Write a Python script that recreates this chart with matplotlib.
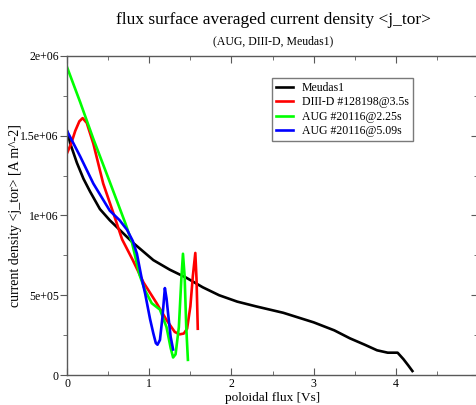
import numpy as np
import matplotlib
matplotlib.use("Agg")
import matplotlib.pyplot as plt
from matplotlib.ticker import MultipleLocator

plt.rcParams['font.family'] = ['Liberation Serif', 'DejaVu Serif']

# data: poloidal flux [Vs] vs current density [A m^-2]
meudas_x = [0.0, 0.04, 0.12, 0.20, 0.28, 0.40, 0.52, 0.64, 0.80, 1.05, 1.25, 1.45,
            1.65, 1.85, 2.07, 2.30, 2.63, 3.00, 3.25, 3.44, 3.62, 3.77, 3.90, 4.02,
            4.09, 4.15, 4.20]
meudas_y = [1.53e6, 1.45e6, 1.33e6, 1.23e6, 1.15e6, 1.04e6, 0.97e6, 0.91e6, 0.83e6,
            0.72e6, 0.66e6, 0.61e6, 0.55e6, 0.50e6, 0.46e6, 0.43e6, 0.39e6, 0.33e6,
            0.28e6, 0.23e6, 0.19e6, 0.155e6, 0.14e6, 0.14e6, 0.10e6, 0.06e6, 0.025e6]

diiid_x = [0.0, 0.05, 0.10, 0.15, 0.19, 0.24, 0.32, 0.44, 0.56, 0.67, 0.80, 0.93,
           1.09, 1.21, 1.31, 1.37, 1.42, 1.46, 1.50, 1.53, 1.56, 1.575, 1.59]
diiid_y = [1.39e6, 1.45e6, 1.53e6, 1.59e6, 1.61e6, 1.58e6, 1.45e6, 1.20e6, 1.02e6,
           0.85e6, 0.72e6, 0.58e6, 0.45e6, 0.345e6, 0.27e6, 0.255e6, 0.26e6, 0.29e6,
           0.43e6, 0.62e6, 0.765e6, 0.60e6, 0.29e6]

aug225_x = [0.0, 0.16, 0.32, 0.52, 0.71, 0.79, 0.88, 0.95, 1.03, 1.13, 1.21, 1.26,
            1.29, 1.32, 1.36, 1.39, 1.41, 1.43, 1.45, 1.47]
aug225_y = [1.93e6, 1.71e6, 1.48e6, 1.21e6, 0.95e6, 0.83e6, 0.63e6, 0.53e6, 0.45e6,
            0.41e6, 0.30e6, 0.17e6, 0.11e6, 0.13e6, 0.30e6, 0.60e6, 0.76e6, 0.62e6,
            0.30e6, 0.095e6]

aug509_x = [0.0, 0.08, 0.16, 0.32, 0.52, 0.64, 0.73, 0.80, 0.85, 0.91, 0.95, 1.01,
            1.05, 1.08, 1.10, 1.13, 1.16, 1.19, 1.21, 1.23, 1.26, 1.29]
aug509_y = [1.53e6, 1.45e6, 1.37e6, 1.20e6, 1.03e6, 0.97e6, 0.91e6, 0.84e6, 0.76e6,
            0.60e6, 0.51e6, 0.35e6, 0.26e6, 0.20e6, 0.19e6, 0.22e6, 0.36e6, 0.545e6,
            0.48e6, 0.38e6, 0.24e6, 0.16e6]

series = [
    ("Meudas1", meudas_x, meudas_y, "black"),
    ("DIII-D #128198@3.5s", diiid_x, diiid_y, "#ff0000"),
    ("AUG #20116@2.25s", aug225_x, aug225_y, "#00ff00"),
    ("AUG #20116@5.09s", aug509_x, aug509_y, "#0000ff"),
]

x_ticks = [0, 1, 2, 3, 4, 5]
y_ticks = [0, 5e5, 1e6, 1.5e6, 2e6]
y_tick_labels = ["0", "5e+05", "1e+06", "1.5e+06", "2e+06"]

fig = plt.figure(figsize=(4.77, 4.05), dpi=100)
ax = fig.add_axes([0.1405, 0.074, 0.862, 0.788])

for label, xs, ys, col in series:
    ax.plot(xs, ys, color=col, lw=1.9, label=label)

ax.set_xlim(0, 5)
ax.set_ylim(0, 2e6)
ax.set_xticks(x_ticks)
ax.set_xticklabels([str(t) for t in x_ticks])
ax.xaxis.set_minor_locator(MultipleLocator(0.5))
ax.set_yticks(y_ticks)
ax.set_yticklabels(y_tick_labels)
ax.yaxis.set_minor_locator(MultipleLocator(2.5e5))

spine_col = "0.35"
for s in ax.spines.values():
    s.set_color(spine_col)
    s.set_linewidth(1.0)

ax.tick_params(axis='x', which='both', direction='in', top=True, bottom=True,
               color=spine_col, labelsize=8.5, pad=2)
ax.tick_params(axis='x', which='major', length=5)
ax.tick_params(axis='x', which='minor', length=3)
ax.tick_params(axis='y', which='both', direction='out', left=True, right=False,
               color=spine_col, labelsize=8.5, pad=1)
ax.tick_params(axis='y', which='major', length=5)
ax.tick_params(axis='y', which='minor', length=3)

# right side ticks point inward
ax_r = ax.secondary_yaxis('right')
ax_r.set_yticks(y_ticks)
ax_r.yaxis.set_minor_locator(MultipleLocator(2.5e5))
ax_r.tick_params(axis='y', which='both', direction='in', labelright=False,
                 color=spine_col)
ax_r.tick_params(axis='y', which='major', length=5)
ax_r.tick_params(axis='y', which='minor', length=3)
ax_r.spines['right'].set_color(spine_col)

ax.set_xlabel("poloidal flux [Vs]", fontsize=9.5)
ax.xaxis.set_label_coords(0.5, -0.053)
ax.set_ylabel("current density <j_tor> [A m^-2]", fontsize=10)
ax.yaxis.set_label_coords(-0.11, 0.5)

fig.text(0.573, 0.950, "flux surface averaged current density <j_tor>",
         ha='center', va='center', fontsize=12.5)
fig.text(0.573, 0.897, "(AUG, DIII-D, Meudas1)", ha='center', va='center',
         fontsize=8.5)

leg = ax.legend(loc='upper left', bbox_to_anchor=(0.499, 0.931), fontsize=8.5,
                frameon=True, fancybox=False, handlelength=1.4, handletextpad=0.75,
                labelspacing=0.2, borderpad=0.35, borderaxespad=0)
leg.get_frame().set_edgecolor("0.35")
leg.get_frame().set_linewidth(1.0)

fig.savefig("out.png", dpi=100)
